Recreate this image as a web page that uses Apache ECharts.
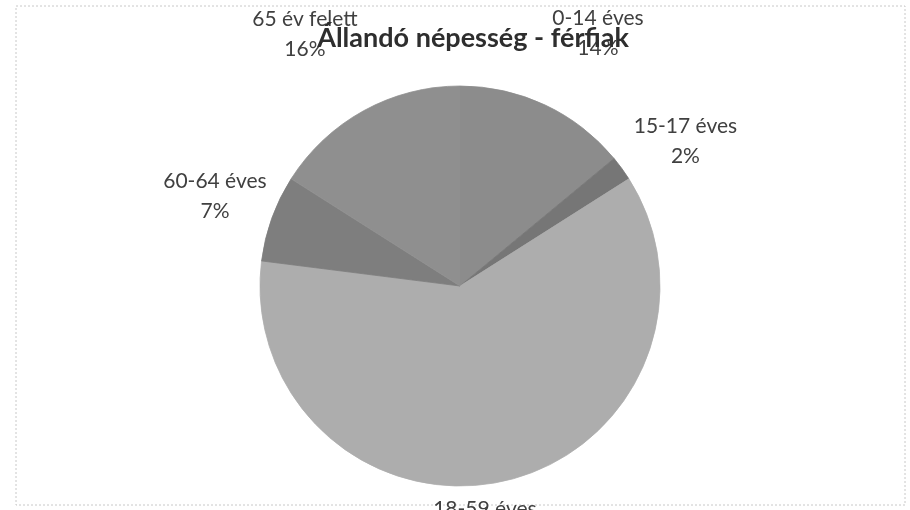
<!DOCTYPE html>
<html>
<head>
<meta charset="utf-8">
<script src="https://cdn.jsdelivr.net/npm/echarts@6/dist/echarts.min.js"></script>
<style>
  html, body { margin: 0; padding: 0; background: #fff; }
  #chart { width: 910px; height: 510px; }
</style>
</head>
<body>
<div id="chart"></div>
<script>
// Állandó népesség - férfiak, korcsoportok szerint (%)
const categories = ['0-14 éves', '15-17 éves', '18-59 éves', '60-64 éves', '65 év felett']
const values = [14, 2, 61, 7, 16]
const colors = ['#8c8c8c', '#767676', '#adadad', '#7e7e7e', '#8f8f8f']

// label nudges (excel "best fit" positions)
const labelShift = [[18, -8], [2, 14], [-39, -25], [14, 2], [-20, -15]]

const chart = echarts.init(document.getElementById('chart'))
chart.setOption({
  animation: false,
  title: {
    text: 'Állandó népesség - férfiak',
    left: 468,
    top: 20,
    textAlign: 'center',
    textStyle: {
      fontFamily: 'Lato',
      fontWeight: 'bold',
      fontSize: 27,
      color: '#2e2e2e'
    },
    z: 10
  },
  graphic: [{
    type: 'rect',
    shape: { x: 16, y: 6, width: 889, height: 499 },
    style: { fill: 'none', stroke: '#c8c8c8', lineWidth: 1, lineDash: [2, 2] },
    silent: true
  }],
  series: [{
    type: 'pie',
    center: [460, 286],
    radius: 200,
    startAngle: 90,
    clockwise: true,
    avoidLabelOverlap: false,
    data: categories.map((name, i) => ({
      name: name,
      value: values[i],
      // border in the slice colour hides the anti-aliasing seams
      itemStyle: { color: colors[i], borderColor: colors[i], borderWidth: 0.8 }
    })),
    label: {
      position: 'outside',
      formatter: '{b}\n{d}%',
      fontFamily: 'Lato',
      fontSize: 21,
      lineHeight: 30,
      color: '#404040'
    },
    labelLine: { show: false, length: 70, length2: 0 },
    labelLayout: function (params) {
      const s = labelShift[params.dataIndex]
      return { align: 'center', dx: s[0], dy: s[1] }
    }
  }]
})
</script>
</body>
</html>
